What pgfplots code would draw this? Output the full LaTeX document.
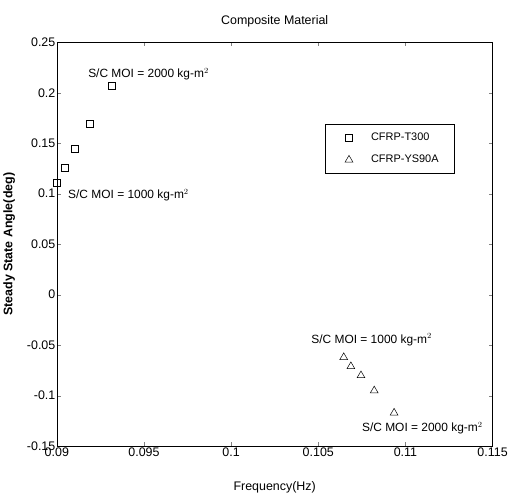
\documentclass[border=0pt]{standalone}
\usepackage{fontspec}
\setmainfont{Liberation Sans}
\usepackage{pgfplots}
\pgfplotsset{compat=1.18}
\pgfplotsset{wideleg/.style={legend image code/.code={\path (0pt,0pt); \draw[##1] plot coordinates {(24pt,0pt)}; \path (44pt,0pt);}}}

\begin{document}
\begin{tikzpicture}
\begin{axis}[
  width=438pt, height=406pt, scale only axis,
  xmin=0.09, xmax=0.115, ymin=-0.15, ymax=0.25,
  xtick={0.09,0.095,0.1,0.105,0.11,0.115},
  xticklabels={0.09,0.095,0.1,0.105,0.11,0.115},
  ytick={-0.15,-0.1,-0.05,0,0.05,0.1,0.15,0.2,0.25},
  yticklabels={-0.15,-0.1,-0.05,0,0.05,0.1,0.15,0.2,0.25},
  tick align=inside, tick pos=both, major tick length=4pt,
  ticklabel style={font=\fontsize{12.5}{14}\selectfont},
  xticklabel style={yshift=2pt}, yticklabel style={xshift=2pt},
  title={\rule{0pt}{21pt}Composite Material},
  title style={font=\fontsize{12.5}{14}\selectfont, at={(axis description cs:0.5,1)}, anchor=south, yshift=6pt},
  xlabel={Frequency(Hz)}, ylabel={\textbf{Steady State Angle(deg)}},
  label style={font=\fontsize{12.5}{14}\selectfont},
  xlabel style={yshift=-18pt},
  ylabel style={at={(axis description cs:-0.088,0.5)}, anchor=south},
  legend style={at={(axis cs:0.10537,0.169)}, anchor=north west, font=\fontsize{11}{13}\selectfont,
    draw=black, row sep=9pt, inner xsep=0pt, inner ysep=7pt},
  legend cell align=left,
  every axis plot/.append style={only marks, black, mark options={solid, fill=white, line width=0.5pt}},
]
\addplot[mark=square, mark size=3.5pt, wideleg]
  coordinates {(0.0900,0.111)(0.09046,0.126)(0.09103,0.1446)(0.09189,0.169)(0.09314,0.2067)};
\addlegendentry{CFRP-T300}
\addplot[mark=triangle, mark size=4.5pt, wideleg]
  coordinates {(0.10646,-0.062)(0.10687,-0.071)(0.10745,-0.080)(0.10821,-0.095)(0.10935,-0.117)};
\addlegendentry{CFRP-YS90A\hspace*{14pt}}
\node[font=\fontsize{12}{14}\selectfont] at (axis cs:0.09526,0.2185) {S/C MOI = 2000 kg-m$^2$};
\node[font=\fontsize{12}{14}\selectfont] at (axis cs:0.09411,0.0983) {S/C MOI = 1000 kg-m$^2$};
\node[font=\fontsize{12}{14}\selectfont] at (axis cs:0.10806,-0.0445) {S/C MOI = 1000 kg-m$^2$};
\node[font=\fontsize{12}{14}\selectfont] at (axis cs:0.11097,-0.132) {S/C MOI = 2000 kg-m$^2$};
\end{axis}
\end{tikzpicture}
\end{document}
